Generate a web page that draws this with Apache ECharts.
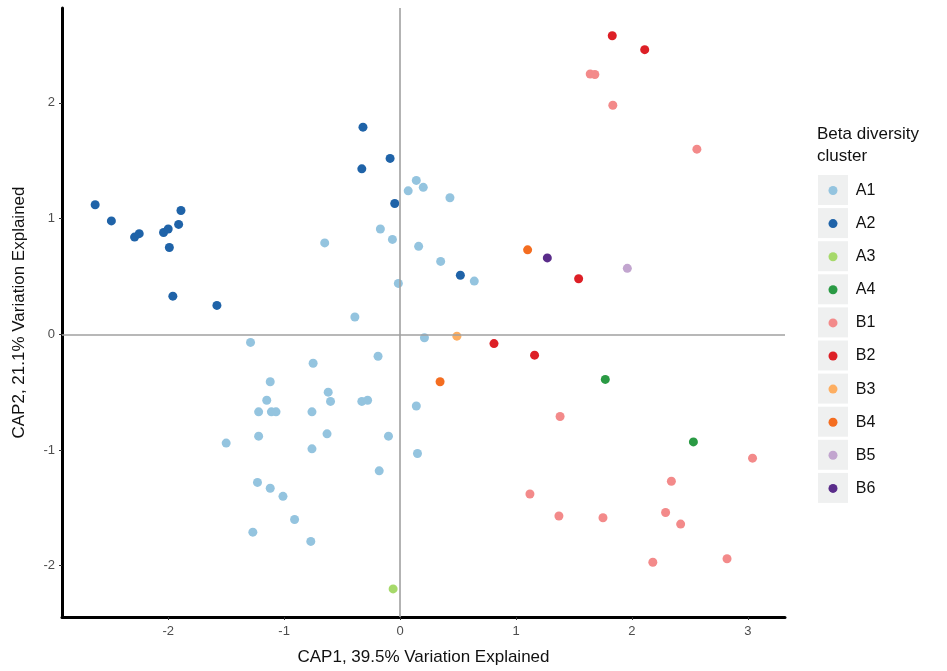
<!DOCTYPE html>
<html>
<head>
<meta charset="utf-8">
<script src="https://cdn.jsdelivr.net/npm/echarts@6/dist/echarts.min.js"></script>
<style>html,body{margin:0;padding:0;background:#fff}#c{width:947px;height:671px}</style>
</head>
<body>
<div id="c"></div>
<script>
const clusters = ['A1','A2','A3','A4','B1','B2','B3','B4','B5','B6'];
const colors = ['#94C4DF','#1F63A8','#A6D96A','#2A9A44','#F38A8A','#DD1F26','#FDAE61','#F46D20','#C2A5CF','#5A2C8A'];
const xTicks = [-2,-1,0,1,2,3];
const yTicks = [-2,-1,0,1,2];

const A1 = [[0.14,1.33],[0.07,1.24],[0.20,1.27],[0.43,1.18],[-0.17,0.91],[-0.65,0.79],[-0.066,0.82],[0.16,0.76],[0.35,0.63],[0.64,0.46],[-0.015,0.44],[-0.39,0.15],
  [-1.29,-0.07],[0.21,-0.03],[-0.19,-0.19],[-0.75,-0.25],[-1.12,-0.41],[-0.62,-0.50],[-1.15,-0.57],[-0.60,-0.58],[-0.33,-0.58],[-0.28,-0.57],[0.14,-0.62],
  [-1.22,-0.67],[-1.11,-0.67],[-1.07,-0.67],[-0.76,-0.67],[-1.22,-0.88],[-0.63,-0.86],[-0.10,-0.88],[-1.50,-0.94],[-0.76,-0.99],[0.15,-1.03],[-0.18,-1.18],
  [-1.23,-1.28],[-1.12,-1.33],[-1.01,-1.40],[-0.91,-1.60],[-1.27,-1.71],[-0.77,-1.79]];
const A2 = [[-2.63,1.12],[-2.49,0.98],[-2.29,0.84],[-2.25,0.87],[-2.04,0.88],[-2.00,0.91],[-1.91,0.95],[-1.89,1.07],[-1.99,0.75],[-1.96,0.33],[-1.58,0.25],
  [-0.32,1.79],[-0.086,1.52],[-0.33,1.43],[-0.046,1.13],[0.52,0.51]];
const A3 = [[-0.06,-2.20]];
const A4 = [[1.77,-0.39],[2.53,-0.93]];
const B1 = [[1.64,2.25],[1.68,2.245],[1.835,1.98],[2.56,1.60],[1.38,-0.71],[3.04,-1.07],[2.34,-1.27],[1.12,-1.38],[1.37,-1.57],[1.75,-1.585],[2.29,-1.54],[2.42,-1.64],[2.18,-1.97],[2.82,-1.94]];
const B2 = [[1.83,2.58],[2.11,2.46],[1.54,0.48],[0.81,-0.08],[1.16,-0.18]];
const B3 = [[0.49,-0.016]];
const B4 = [[1.10,0.73],[0.345,-0.41]];
const B5 = [[1.96,0.57]];
const B6 = [[1.27,0.66]];
const clusterData = [A1,A2,A3,A4,B1,B2,B3,B4,B5,B6];

const font = 'Liberation Sans, Arial, sans-serif';
const chart = echarts.init(document.getElementById('c'), null, {renderer:'canvas'});

const series = [{
  type:'scatter', data:[], silent:true, z:1,
  markLine:{silent:true, symbol:['none','none'], label:{show:false},
    lineStyle:{color:'#A0A0A0', width:1.6, type:'solid'},
    animation:false,
    data:[{xAxis:0},{yAxis:0}]}
}];
clusters.forEach((c,i)=>{
  series.push({name:c, type:'scatter', data:clusterData[i], symbolSize:9, z:3,
    itemStyle:{color:colors[i], opacity:1}});
});

const legendTop = 175, legendStep = 33.1;
const graphics = clusters.map((c,i)=>({type:'rect', left:818, top:legendTop+i*legendStep, z:-1,
  shape:{width:30, height:30}, style:{fill:'#EFF0F0'}}));
graphics.push({type:'text', left:817, top:123, style:{text:'Beta diversity\ncluster', font:'17px '+font, fill:'#111', lineHeight:22}});

const legends = clusters.map((c,i)=>({
  orient:'vertical', left:828.5, top:legendTop+i*legendStep+7.5, padding:0,
  itemWidth:35.5, itemHeight:9, icon:'circle', selectedMode:false, data:[c],
  textStyle:{fontFamily:font, fontSize:16, color:'#111', lineHeight:15}
}));

chart.setOption({
  animation:false,
  backgroundColor:'#fff',
  grid:{left:62, right:162, top:8, bottom:54, containLabel:false},
  xAxis:{type:'value', min:-2.916, max:3.32,
    name:'CAP1, 39.5% Variation Explained', nameLocation:'middle', nameGap:32,
    nameTextStyle:{fontFamily:font, fontSize:17, color:'#111'},
    axisLine:{show:true, onZero:false, lineStyle:{color:'#000', width:3}},
    axisTick:{show:true, length:3, lineStyle:{color:'#333', width:1}, customValues:xTicks},
    axisLabel:{fontFamily:font, fontSize:13, color:'#4D4D4D', margin:8, customValues:xTicks},
    splitLine:{show:false}},
  yAxis:{type:'value', min:-2.443, max:2.82,
    name:'CAP2, 21.1% Variation Explained', nameLocation:'middle', nameGap:34,
    nameTextStyle:{fontFamily:font, fontSize:17, color:'#111'},
    axisLine:{show:true, onZero:false, lineStyle:{color:'#000', width:3}},
    axisTick:{show:true, length:3, lineStyle:{color:'#333', width:1}, customValues:yTicks},
    axisLabel:{fontFamily:font, fontSize:13, color:'#4D4D4D', margin:7, customValues:yTicks},
    splitLine:{show:false}},
  legend:legends,
  graphic:graphics,
  series:series
});
</script>
</body>
</html>
